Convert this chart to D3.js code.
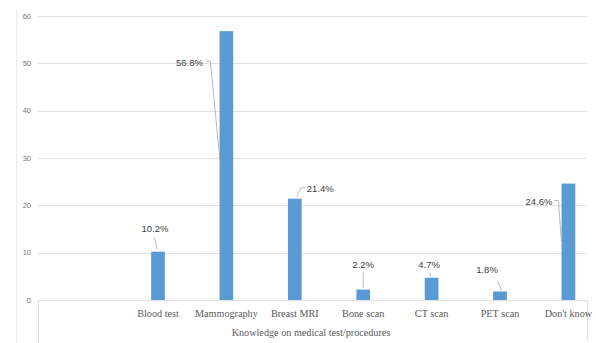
<!DOCTYPE html>
<html><head><meta charset="utf-8">
<script src="https://cdn.jsdelivr.net/npm/d3@7/dist/d3.min.js"></script>
<style>body{margin:0;background:#fff;}svg{display:block;}</style>
</head><body>
<svg id="c" width="596" height="343"></svg>
<script>
const categories = ["Blood test","Mammography","Breast MRI","Bone scan","CT scan","PET scan","Don't know"];
const values = [10.2, 56.8, 21.4, 2.2, 4.7, 1.8, 24.6];
const labels = ["10.2%","56.8%","21.4%","2.2%","4.7%","1.8%","24.6%"];
const yTicks = [0,10,20,30,40,50,60];
const xTitle = "Knowledge on medical test/procedures";

// label placement (offsets relative to bar top centre) and leader-line points
const labelLayout = [
  {dx:-3, dy:-23.5, lead:[[-3.5,-14.5],[-1,-2]]},
  {dx:-37, dy:31, lead:[[-20,30],[-16,30],[-6,134]]},
  {dx:25.5, dy:-10.5, lead:[[10.5,-11.5],[6,-10.5],[1.5,-2]]},
  {dx:0, dy:-25, lead:[[0,-17],[0,-1.5]]},
  {dx:-2.5, dy:-13.5, lead:[[-1.5,-5],[-1,-1.5]]},
  {dx:-13, dy:-21.5, lead:[[-2.5,-10.5],[1.5,-1]]},
  {dx:-29.5, dy:17.5, lead:[[-14.5,17],[-10,17],[-7,57.5]]}
];

const svg = d3.select("#c");
const y = d3.scaleLinear().domain([0,60]).range([300,16]);
const x = d3.scaleBand().domain(categories).range([123.8,602.6]).paddingInner(0.8).paddingOuter(0.4);

// faint outer border line
svg.append("line").attr("x1",16.5).attr("x2",16.5).attr("y1",10).attr("y2",343)
  .attr("stroke","#ededed").attr("stroke-width",1);

// gridlines
svg.append("g").selectAll("line").data(yTicks).join("line")
  .attr("x1",38).attr("x2",587)
  .attr("y1",d=>Math.round(y(d))+0.5).attr("y2",d=>Math.round(y(d))+0.5)
  .attr("stroke","#e0e0e0").attr("stroke-width",1);

// y tick labels
svg.append("g").selectAll("text").data(yTicks).join("text")
  .attr("x",31).attr("y",d=>y(d)+2.5)
  .attr("text-anchor","end")
  .attr("font-family","Liberation Sans, Arial, sans-serif")
  .attr("font-size",7.5).attr("fill","#777")
  .text(d=>d);

// category box lines
svg.append("line").attr("x1",38.5).attr("x2",38.5).attr("y1",300).attr("y2",343).attr("stroke","#e0e0e0");
svg.append("line").attr("x1",587.5).attr("x2",587.5).attr("y1",300).attr("y2",340).attr("stroke","#e0e0e0");

// bars
svg.append("g").selectAll("rect").data(categories).join("rect")
  .attr("x",d=>x(d)).attr("width",x.bandwidth())
  .attr("y",(d,i)=>y(values[i])).attr("height",(d,i)=>y(0)-y(values[i]))
  .attr("fill","#5b9bd5");

// leader lines
const line = d3.line();
svg.append("g").selectAll("path").data(categories).join("path")
  .attr("d",(d,i)=>{
    const cx = x(d)+x.bandwidth()/2, ty = y(values[i]);
    return line(labelLayout[i].lead.map(p=>[cx+p[0],ty+p[1]]));
  })
  .attr("fill","none").attr("stroke","#a6a6a6").attr("stroke-width",0.8);

// data labels
svg.append("g").selectAll("text").data(categories).join("text")
  .attr("x",(d,i)=>x(d)+x.bandwidth()/2+labelLayout[i].dx)
  .attr("y",(d,i)=>y(values[i])+labelLayout[i].dy+3.5)
  .attr("text-anchor","middle")
  .attr("font-family","Liberation Sans, Arial, sans-serif")
  .attr("font-size",9.5).attr("fill","#404040")
  .text((d,i)=>labels[i]);

// category labels
svg.append("g").selectAll("text").data(categories).join("text")
  .attr("x",d=>x(d)+x.bandwidth()/2).attr("y",316.5)
  .attr("text-anchor","middle")
  .attr("font-family","Liberation Serif, Times New Roman, serif")
  .attr("font-size",10.2).attr("fill","#595959")
  .text(d=>d);

// axis title
svg.append("text").attr("x",311).attr("y",335.5)
  .attr("text-anchor","middle")
  .attr("font-family","Liberation Serif, Times New Roman, serif")
  .attr("font-size",10.2).attr("fill","#595959")
  .text(xTitle);
</script>
</body></html>
